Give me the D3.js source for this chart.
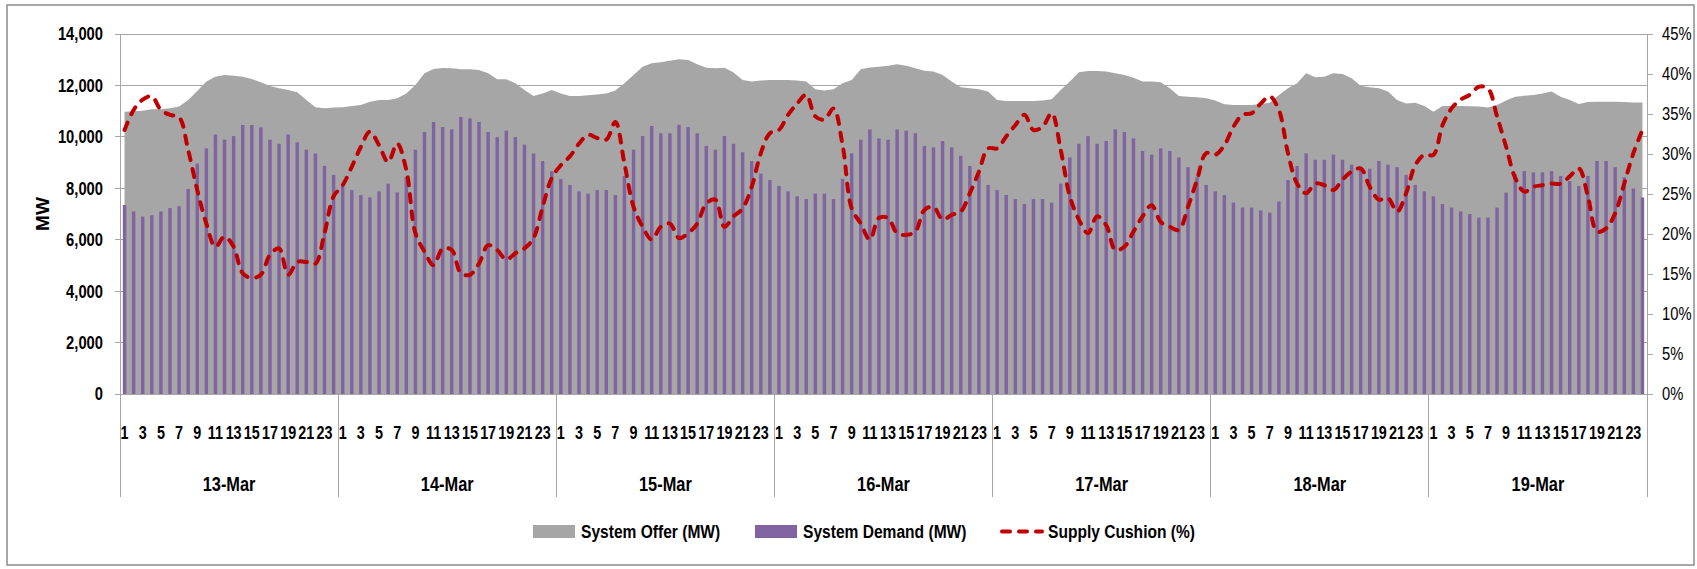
<!DOCTYPE html>
<html><head><meta charset="utf-8">
<script src="https://cdn.jsdelivr.net/npm/d3@7"></script>
<style>body{margin:0;background:#fff}svg{display:block}</style>
</head><body><svg id="c" width="1697" height="569"></svg>
<script>
const days = ["13-Mar","14-Mar","15-Mar","16-Mar","17-Mar","18-Mar","19-Mar"];
const hours = d3.range(1, 25);
const hourLabels = hours.map(h => h % 2 === 1 ? String(h) : "");
const mwTicks = [0,2000,4000,6000,8000,10000,12000,14000];
const pctTicks = [0,0.05,0.10,0.15,0.20,0.25,0.30,0.35,0.40,0.45];

const systemOffer = [
10980,11000,11020,11070,11070,11110,11180,11430,11780,12150,12340,12410,12380,12340,12250,12120,11980,11890,11820,11730,11430,11150,11110,11140,
11150,11200,11240,11370,11430,11430,11500,11690,12020,12470,12640,12680,12670,12630,12630,12600,12470,12240,12240,12080,11820,11590,11690,11820,
11690,11590,11590,11620,11650,11690,11800,12080,12410,12730,12860,12900,12960,13020,12990,12820,12690,12670,12690,12500,12210,12150,12190,12210,
12210,12210,12190,12150,11850,11800,11850,12080,12210,12630,12700,12730,12770,12820,12770,12670,12570,12540,12410,12150,11930,11890,11850,11760,
11430,11390,11390,11390,11390,11410,11460,11820,12150,12510,12560,12560,12540,12470,12410,12300,12150,12150,12120,11890,11590,11560,11540,11500,
11410,11270,11240,11240,11240,11280,11330,11630,11890,12080,12470,12320,12340,12470,12440,12280,11990,11930,11890,11760,11430,11300,11330,11200,
10980,11200,11200,11200,11190,11180,11140,11240,11410,11560,11600,11630,11690,11760,11560,11430,11280,11360,11370,11370,11370,11360,11340,11340];

const systemDemand = [
7350,7100,6900,6950,7100,7230,7300,7970,8960,9550,10090,9890,10030,10460,10460,10370,9890,9730,10090,9790,9500,9350,8870,8520,
8150,7930,7740,7650,7880,8180,7840,8450,9500,10190,10580,10380,10290,10770,10720,10580,10190,9990,10240,9990,9700,9350,9060,8670,
8360,8130,7880,7790,7930,7930,7740,8480,9500,10030,10420,10140,10140,10470,10380,10140,9650,9500,10030,9730,9400,9060,8570,8320,
8090,7880,7690,7580,7790,7790,7580,8370,9360,9890,10290,9940,9890,10290,10240,10140,9650,9590,9840,9590,9260,8870,8530,8130,
7930,7740,7580,7390,7580,7580,7440,8180,9200,9730,10030,9730,9840,10290,10190,9940,9450,9310,9550,9450,9200,8820,8430,8130,
7880,7740,7440,7250,7250,7140,7050,7490,8320,8870,9360,9110,9110,9310,9110,8920,8820,8760,9060,8920,8820,8520,8130,7880,
7690,7390,7250,7100,7000,6860,6860,7250,7830,8550,8670,8620,8620,8670,8480,8280,8090,8480,9060,9060,8820,8430,7990,7640];

const supplyCushion = [
33.0,35.5,36.8,37.2,35.5,34.9,34.6,30.5,25.5,21.3,18.4,19.7,18.4,15.1,14.5,14.9,17.4,18.2,14.9,16.5,16.5,16.3,20.1,24.7,
26.1,28.4,30.9,32.8,31.1,29.0,31.3,28.0,20.1,17.8,16.1,18.2,18.0,15.1,14.9,16.3,18.6,18.0,16.8,17.6,18.2,19.5,23.4,27.0,
28.6,29.7,31.3,32.4,32.0,31.8,34.0,28.8,23.4,20.9,19.3,20.9,21.3,19.5,20.1,21.3,23.8,24.3,20.9,22.2,23.2,25.9,30.1,32.6,
33.0,34.9,36.3,37.4,34.7,34.3,35.7,31.1,23.2,21.3,19.3,22.0,22.0,20.1,19.9,20.3,23.0,23.4,21.8,22.4,22.8,25.1,27.8,30.7,
30.7,32.2,33.6,34.9,33.0,33.4,35.1,30.5,24.7,21.8,20.1,22.2,21.1,18.0,18.4,20.3,22.2,23.6,21.5,20.9,20.5,23.4,26.8,30.1,
29.9,31.1,33.4,34.9,35.1,36.3,37.2,35.5,30.1,26.3,25.1,26.3,26.1,25.5,26.8,27.8,28.2,25.9,24.3,24.5,22.8,25.1,28.6,29.9,
29.9,33.6,35.7,36.8,37.4,38.4,38.2,34.7,30.9,27.0,25.3,25.9,26.1,26.3,26.3,27.2,28.2,24.7,20.3,20.7,22.6,26.3,30.1,33.0];

const categories = [];
days.forEach(d => hours.forEach(h => categories.push({day: d, hour: h})));

const L = 120, R = 1647, T = 34, B = 394;
const FONT = "'Liberation Sans',Arial,sans-serif";
const SX = 0.82; // narrow text
const GRID = "#a6a6a6";
const tr = (px, py) => `translate(${px},${py}) scale(${SX},1)`;

const svg = d3.select("#c");
svg.append("rect").attr("x", 7).attr("y", 5).attr("width", 1687).attr("height", 560)
  .attr("fill", "#fff").attr("stroke", "#8c8c8c").attr("stroke-width", 1.5);

const x = d3.scaleBand().domain(d3.range(categories.length)).range([L, R]);
const cx = i => x(i) + x.bandwidth() / 2;
const y = d3.scaleLinear().domain([0, 14000]).range([B, T]);
const y2 = d3.scaleLinear().domain([0, 0.45]).range([B, T]);

// gridlines
svg.append("g").selectAll("line").data(mwTicks).join("line")
  .attr("x1", L - 5).attr("x2", R).attr("y1", d => y(d)).attr("y2", d => y(d))
  .attr("stroke", GRID).attr("stroke-width", 1).attr("shape-rendering", "crispEdges");

// left labels
svg.append("g").selectAll("text").data(mwTicks).join("text")
  .attr("transform", d => tr(103, y(d))).attr("dy", "0.36em").attr("text-anchor", "end")
  .attr("font-family", FONT).attr("font-weight", "bold").attr("font-size", 18).attr("fill", "#000")
  .text(d3.format(","));

svg.append("text").attr("transform", `translate(49,${(T + B) / 2}) rotate(-90)`)
  .attr("text-anchor", "middle").attr("font-family", FONT)
  .attr("font-weight", "bold").attr("font-size", 19).text("MW");

// area (offer)
svg.append("path").datum(systemOffer)
  .attr("fill", "#a6a6a6")
  .attr("d", d3.area().x((d, i) => cx(i)).y0(y(0)).y1(d => y(d)));

// bars (demand)
const bw = x.bandwidth() * 0.38;
svg.append("g").selectAll("rect").data(systemDemand).join("rect")
  .attr("x", (d, i) => cx(i) - bw / 2).attr("width", bw)
  .attr("y", d => y(d)).attr("height", d => y(0) - y(d))
  .attr("fill", "#8064a2");

// cushion line
svg.append("path").datum(supplyCushion)
  .attr("fill", "none").attr("stroke", "#c00000").attr("stroke-width", 4)
  .attr("stroke-dasharray", "8,9").attr("stroke-linecap", "round")
  .attr("d", d3.line().x((d, i) => cx(i)).y(d => y2(d / 100)).curve(d3.curveCatmullRom.alpha(0.5)));

// axes lines
const ax = svg.append("g").attr("stroke", GRID).attr("stroke-width", 1).attr("shape-rendering", "crispEdges");
ax.append("line").attr("x1", L).attr("x2", R).attr("y1", B).attr("y2", B);
const sepX = d => d === days.length ? R : x(d * 24);
ax.selectAll(".sep").data(d3.range(days.length + 1)).join("line")
  .attr("x1", sepX).attr("x2", sepX)
  .attr("y1", d => (d === 0 || d === days.length) ? T : B).attr("y2", 497);
ax.selectAll(".rt").data(pctTicks).join("line")
  .attr("x1", R).attr("x2", R + 6).attr("y1", d => y2(d)).attr("y2", d => y2(d));

// right labels
svg.append("g").selectAll("text").data(pctTicks).join("text")
  .attr("transform", d => tr(1662, y2(d))).attr("dy", "0.36em")
  .attr("font-family", FONT).attr("font-size", 18).attr("fill", "#000")
  .text(d3.format(".0%"));

// hour labels
svg.append("g").selectAll("text").data(categories).join("text")
  .attr("transform", (d, i) => tr(cx(i), 433)).attr("dy", "0.36em").attr("text-anchor", "middle")
  .attr("font-family", FONT).attr("font-weight", "bold").attr("font-size", 17.5).attr("fill", "#000")
  .text(d => hourLabels[d.hour - 1]);

// day labels
svg.append("g").selectAll("text").data(days).join("text")
  .attr("transform", (d, i) => tr((sepX(i) + sepX(i + 1)) / 2, 484)).attr("dy", "0.36em").attr("text-anchor", "middle")
  .attr("font-family", FONT).attr("font-weight", "bold").attr("font-size", 20).attr("fill", "#000")
  .text(d => d);

// legend
const legend = [
  {name: "System Offer (MW)", type: "box", color: "#a6a6a6", x: 533},
  {name: "System Demand (MW)", type: "box", color: "#8064a2", x: 755},
  {name: "Supply Cushion (%)", type: "line", color: "#c00000", x: 1000}
];
const lg = svg.append("g");
legend.forEach(it => {
  if (it.type === "box") {
    lg.append("rect").attr("x", it.x).attr("y", 525).attr("width", 42).attr("height", 13).attr("fill", it.color);
  } else {
    lg.append("line").attr("x1", it.x + 2).attr("x2", it.x + 42).attr("y1", 531.5).attr("y2", 531.5)
      .attr("stroke", it.color).attr("stroke-width", 4).attr("stroke-dasharray", "8,9").attr("stroke-linecap", "round");
  }
  lg.append("text").attr("transform", tr(it.x + 48, 531.5)).attr("dy", "0.36em")
    .attr("font-family", FONT).attr("font-weight", "bold").attr("font-size", 19).attr("fill", "#000")
    .text(it.name);
});
</script>
</body></html>
